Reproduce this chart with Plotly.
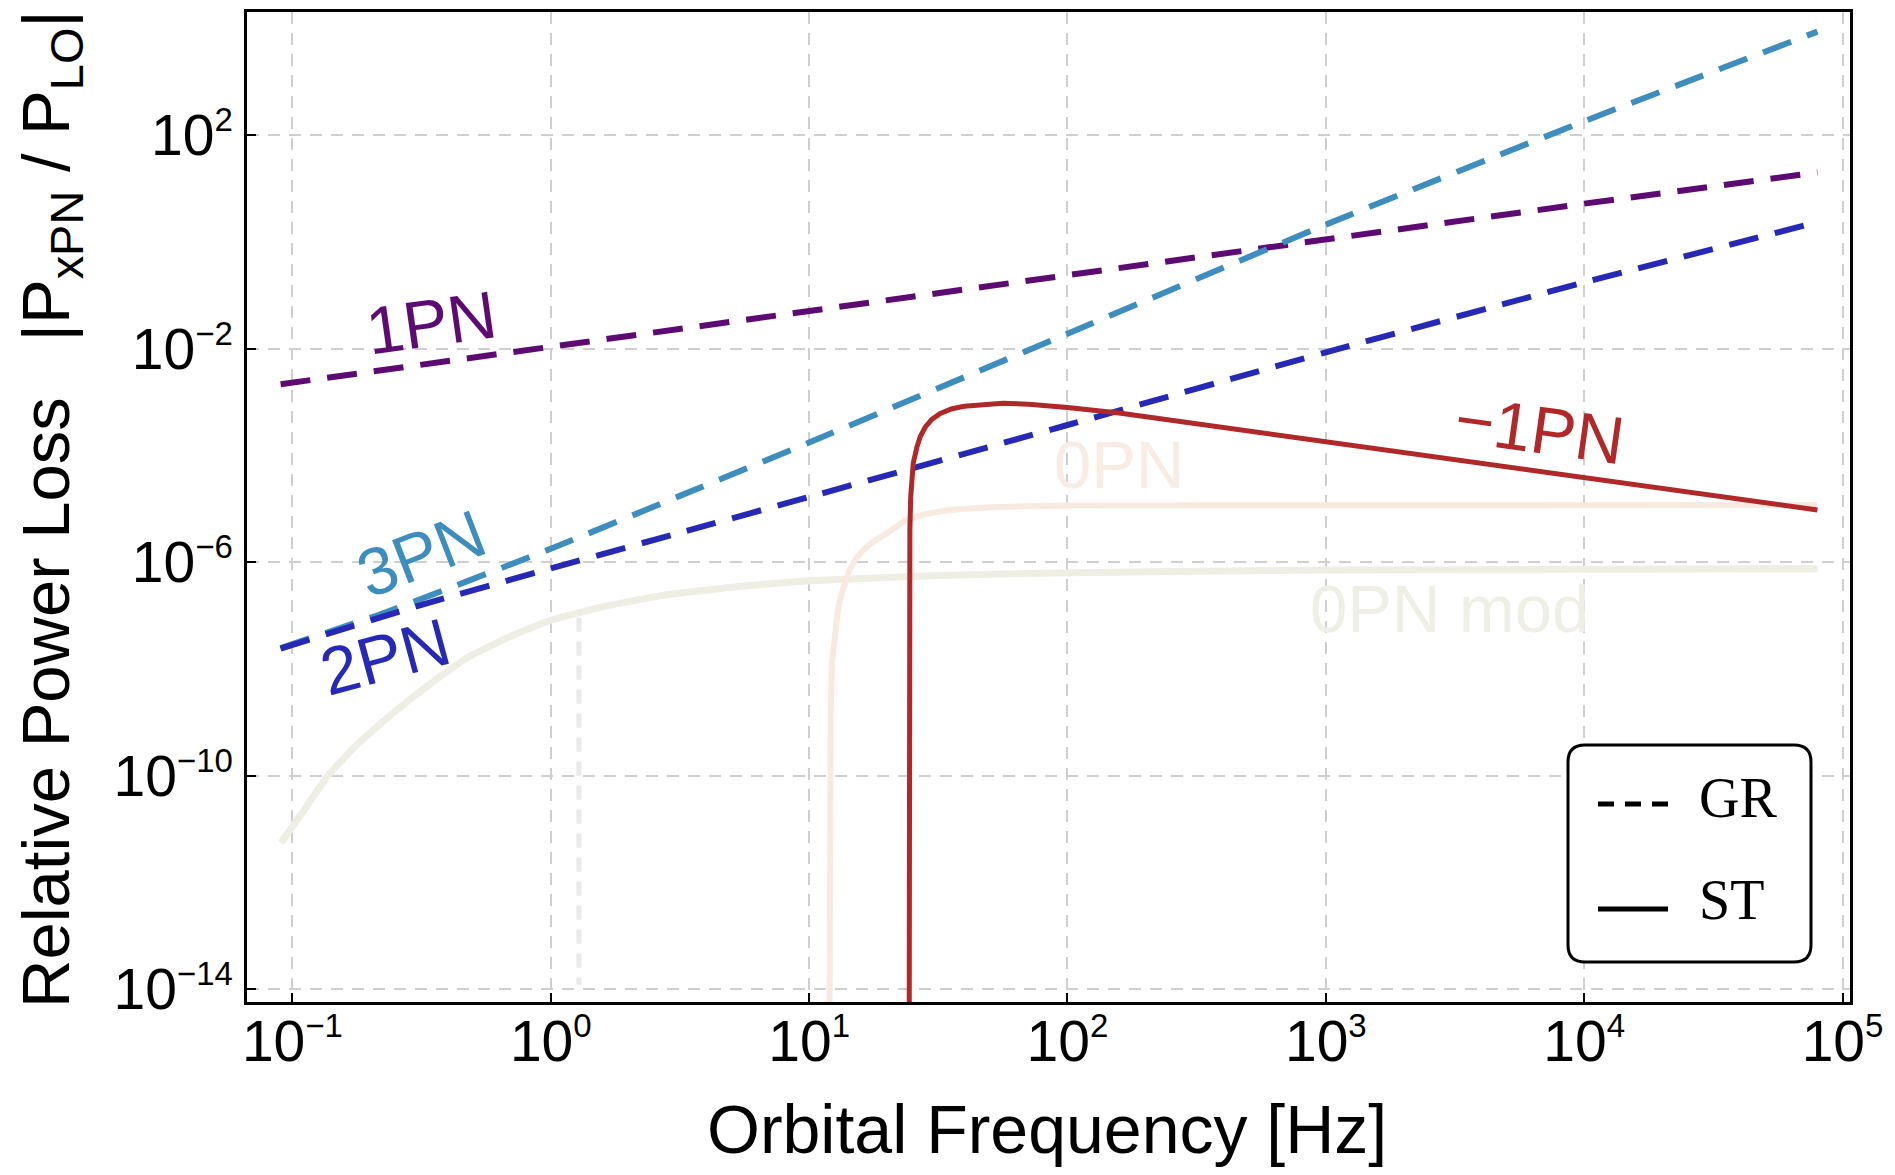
import plotly.graph_objects as go

# ---------------- data ----------------
# GR post-Newtonian corrections (dashed)
f_1pn = [0.09, 1, 10, 100, 1000, 10000, 80000]
p_1pn = [2.15e-3, 1.08e-2, 5.0e-2, 2.35e-1, 1.15, 5.2, 20.0]

f_2pn = [0.09, 0.316, 1, 3.16, 10, 100, 1000, 10000, 80000]
p_2pn = [2.4e-8, 1.58e-7, 7.6e-7, 3.55e-6, 1.66e-5, 3.7e-4, 8.5e-3, 0.174, 2.34]

f_3pn = [0.09, 0.23, 1, 3.16, 10, 100, 1000, 10000, 80000]
p_3pn = [2.45e-8, 1.15e-7, 1.78e-6, 1.74e-5, 1.74e-4, 1.9e-2, 2.1, 182, 8700]

# scalar-tensor -1PN term (solid)
f_m1pn = [24.32, 24.35, 24.38, 24.43, 24.55, 24.72, 24.95, 25.29, 26.12, 26.92,
          28.18, 29.85, 32.06, 35.48, 39.81, 47.32, 56.23, 70.79, 100, 158.5,
          316.2, 1000, 3162, 10000, 31623, 80000]
p_m1pn = [1e-20, 1e-12, 1e-9, 1e-7, 4.0e-6, 1.6e-5, 3.5e-5, 7.1e-5, 1.41e-4, 2.24e-4,
          3.4e-4, 4.7e-4, 6.0e-4, 7.4e-4, 8.3e-4, 9.1e-4, 9.5e-4, 9.1e-4, 7.9e-4, 6.2e-4,
          3.9e-4, 1.78e-4, 8.5e-5, 4.0e-5, 1.82e-5, 9.5e-6]

# faded curves
f_0pn = [12.0, 12.02, 12.05, 12.13, 12.25, 12.42, 12.59, 12.88, 13.24, 13.71, 14.26,
         15.07, 16.07, 17.78, 19.77, 23.6, 28.18, 35.48, 50.12, 100, 1000, 80000]
p_0pn = [5e-15, 1e-12, 1e-10, 1.58e-9, 1.26e-8, 2.82e-8, 5.25e-8, 1.12e-7, 2.19e-7,
         4.17e-7, 6.76e-7, 1.1e-6, 1.62e-6, 2.45e-6, 3.31e-6, 6.03e-6, 7.94e-6,
         9.55e-6, 1.07e-5, 1.15e-5, 1.17e-5, 1.17e-5]

f_0pnmod = [0.0904, 0.1119, 0.1374, 0.1778, 0.2449, 0.3467, 0.4842, 0.7079, 1, 1.585,
            2.661, 5.012, 10, 31.62, 100, 1000, 80000]
p_0pnmod = [5.5e-12, 2.4e-11, 1.0e-10, 3.8e-10, 1.48e-9, 5.5e-9, 1.7e-8, 4.17e-8,
            8.13e-8, 1.45e-7, 2.34e-7, 3.39e-7, 4.47e-7, 5.62e-7, 6.3e-7, 7.1e-7, 7.5e-7]

f_marker = [1.285, 1.285]
p_marker = [9.1e-8, 1.2e-14]

# axis ticks
x_tickvals = [1e-1, 1e0, 1e1, 1e2, 1e3, 1e4, 1e5]
x_exponents = ["\u22121", "0", "1", "2", "3", "4", "5"]
y_tickvals = [1e-14, 1e-10, 1e-6, 1e-2, 1e2]
y_exponents = ["\u221214", "\u221210", "\u22126", "\u22122", "2"]

# curve labels: text, log10 f, log10 P, angle, colour
labels = [
    ("1PN", -0.464, -1.51, -8, "#5E0A73"),
    ("3PN", -0.503, -5.84, -21, "#3D8DBE"),
    ("2PN", -0.643, -7.77, -15, "#2529B5"),
    ("\u22121PN", 3.829, -3.51, 8, "#B02828"),
    ("0PN", 2.20, -4.17, 0, "#F8ECE4"),
    ("0PN mod", 3.48, -6.87, 0, "#EFEFE6"),
]


def power_label(e):
    return f"10<sup><span style='font-size:33px'>{e}</span></sup>"


x_ticktext = [power_label(e) for e in x_exponents]
y_ticktext = [power_label(e) for e in y_exponents]

# ---------------- figure ----------------
# the page body has an 8px margin; figure sized so the plot sits where the reference has it
OFF = 8
W, H = 1895 - 2 * OFF, 1175 - 2 * OFF
X0, X1, Y0, Y1 = 247, 1850, 12, 1002          # plot frame in page pixels
ML, MT = X0 - OFF, Y0 - OFF
MR, MB = W - (X1 - OFF), H - (Y1 - OFF)
PW, PH = X1 - X0, Y1 - Y0


def px2paper(x, y):
    return (x - X0) / PW, (Y1 - y) / PH


fig = go.Figure()

DASH = "30px,17px"
fig.add_trace(go.Scatter(x=f_marker, y=p_marker, mode="lines",
                         line=dict(color="rgba(225,225,225,0.7)", width=5, dash="14px,10px"),
                         hoverinfo="skip"))
fig.add_trace(go.Scatter(x=f_0pnmod, y=p_0pnmod, mode="lines",
                         line=dict(color="#EEEEE4", width=7, shape="spline", smoothing=0.4)))
fig.add_trace(go.Scatter(x=f_0pn, y=p_0pn, mode="lines",
                         line=dict(color="#F8EAE1", width=6)))
fig.add_trace(go.Scatter(x=f_1pn, y=p_1pn, mode="lines",
                         line=dict(color="#5E0A73", width=6, dash=DASH)))
fig.add_trace(go.Scatter(x=f_3pn, y=p_3pn, mode="lines",
                         line=dict(color="#3D8DBE", width=6, dash=DASH, shape="spline", smoothing=0.5)))
fig.add_trace(go.Scatter(x=f_2pn, y=p_2pn, mode="lines",
                         line=dict(color="#2529B5", width=6, dash=DASH, shape="spline", smoothing=0.5)))
fig.add_trace(go.Scatter(x=f_m1pn, y=p_m1pn, mode="lines",
                         line=dict(color="#B02828", width=5)))

for txt, lx, ly, ang, col in labels:
    fig.add_annotation(x=lx, y=ly, xref="x", yref="y", text=txt, showarrow=False,
                       textangle=ang, font=dict(family="Liberation Sans", size=67, color=col))

# axis titles
ax_, ay_ = px2paper(1047, 1129)
fig.add_annotation(x=ax_, y=ay_, xref="paper", yref="paper",
                   text="Orbital Frequency [Hz]", showarrow=False, xanchor="center", yanchor="middle",
                   font=dict(family="Liberation Sans", size=68, color="black"))
ax_, ay_ = px2paper(50, 509)
fig.add_annotation(x=ax_, y=ay_, xref="paper", yref="paper",
                   text="Relative Power Loss\u00a0\u00a0 |P<sub>xPN</sub> / P<sub>LO</sub>|",
                   showarrow=False, textangle=-90, xanchor="center", yanchor="middle",
                   font=dict(family="Liberation Sans", size=67, color="black"))

# legend box (rounded)
bx0, by0, bx1, by1, r = 1568, 745, 1811, 962, 17


def P(x, y):
    a, b = px2paper(x, y)
    return f"{a:.5f},{b:.5f}"


path = (f"M {P(bx0 + r, by0)} L {P(bx1 - r, by0)} Q {P(bx1, by0)} {P(bx1, by0 + r)} "
        f"L {P(bx1, by1 - r)} Q {P(bx1, by1)} {P(bx1 - r, by1)} "
        f"L {P(bx0 + r, by1)} Q {P(bx0, by1)} {P(bx0, by1 - r)} "
        f"L {P(bx0, by0 + r)} Q {P(bx0, by0)} {P(bx0 + r, by0)} Z")
fig.add_shape(type="path", path=path, xref="paper", yref="paper",
              line=dict(color="black", width=3), fillcolor="white", layer="above")

gx0, gy0 = px2paper(1598, 804)
gx1, _ = px2paper(1668, 804)
fig.add_shape(type="line", x0=gx0, x1=gx1, y0=gy0, y1=gy0, xref="paper", yref="paper",
              line=dict(color="black", width=5, dash="16px,11px"), layer="above")
sx0, sy0 = px2paper(1598, 909)
sx1, _ = px2paper(1668, 909)
fig.add_shape(type="line", x0=sx0, x1=sx1, y0=sy0, y1=sy0, xref="paper", yref="paper",
              line=dict(color="black", width=5), layer="above")
tx, ty = px2paper(1697, 798)
fig.add_annotation(x=tx, y=ty, xref="paper", yref="paper", text="GR", showarrow=False,
                   xanchor="left", yanchor="middle",
                   font=dict(family="Liberation Serif", size=56, color="black"))
tx, ty = px2paper(1697, 900)
fig.add_annotation(x=tx, y=ty, xref="paper", yref="paper", text="ST", showarrow=False,
                   xanchor="left", yanchor="middle",
                   font=dict(family="Liberation Serif", size=56, color="black"))

axis_common = dict(
    type="log", showline=True, linecolor="black", linewidth=2.5, mirror=True,
    ticks="inside", ticklen=9, tickwidth=2, tickcolor="black",
    showgrid=True, gridcolor="#CFCFCF", gridwidth=1.5, griddash="12px,9px",
    zeroline=False, tickfont=dict(family="Liberation Sans", size=57, color="black"),
)
fig.update_xaxes(range=[-1.1758, 5.029], tickmode="array", tickvals=x_tickvals,
                 ticktext=x_ticktext, ticklabelstandoff=-12, **axis_common)
fig.update_yaxes(range=[-14.243, 4.307], tickmode="array", tickvals=y_tickvals,
                 ticktext=y_ticktext, **axis_common)

fig.update_layout(width=W, height=H, margin=dict(l=ML, r=MR, t=MT, b=MB, autoexpand=False),
                  paper_bgcolor="white", plot_bgcolor="white", showlegend=False)

fig.write_html("out.html")
